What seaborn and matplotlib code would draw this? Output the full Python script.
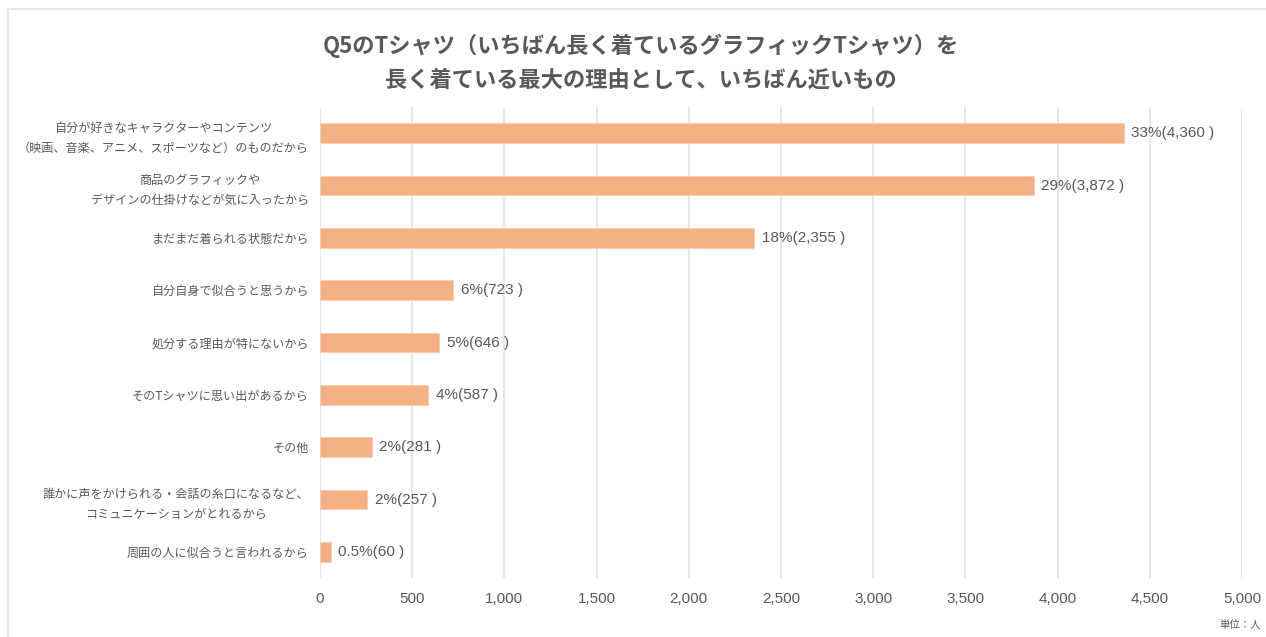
import matplotlib
matplotlib.use("Agg")
import matplotlib.pyplot as plt
import seaborn as sns
import pandas as pd
from matplotlib.lines import Line2D

# data
reasons = [
    "自分が好きなキャラクターやコンテンツ\n（映画、音楽、アニメ、スポーツなど）のものだから",
    "商品のグラフィックや\nデザインの仕掛けなどが気に入ったから",
    "まだまだ着られる状態だから",
    "自分自身で似合うと思うから",
    "処分する理由が特にないから",
    "そのTシャツに思い出があるから",
    "その他",
    "誰かに声をかけられる・会話の糸口になるなど、\nコミュニケーションがとれるから",
    "周囲の人に似合うと言われるから",
]
counts = [4360, 3872, 2355, 723, 646, 587, 281, 257, 60]
shares = ["33%", "29%", "18%", "6%", "5%", "4%", "2%", "2%", "0.5%"]
xticks = [0, 500, 1000, 1500, 2000, 2500, 3000, 3500, 4000, 4500, 5000]

title = "Q5のTシャツ（いちばん長く着ているグラフィックTシャツ）を\n長く着ている最大の理由として、いちばん近いもの"

sns.set_theme(style="white")
plt.rcParams['font.family'] = ['Noto Sans CJK JP', 'DejaVu Sans']
num_font = ['Liberation Sans', 'Noto Sans CJK JP']
text_col = "#595959"
bar_col = "#F4B183"

df = pd.DataFrame({"reason": reasons, "count": counts})

fig = plt.figure(figsize=(12.66, 6.37), dpi=100)
ax = fig.add_axes([0.2528, 0.0926, 0.7282, 0.7394])

sns.barplot(data=df, x="count", y="reason", color=bar_col, width=0.38,
            saturation=1, edgecolor="#F8CBAD", linewidth=0.6, ax=ax, zorder=3)

ax.set_xlim(0, 5000)
ax.set_ylim(8.5, -0.5)
ax.set_xticks(xticks)
ax.set_xticklabels([f"{v:,}" for v in xticks], fontsize=11, color=text_col,
                   family=num_font)
ax.tick_params(axis="x", length=0, pad=10)
ax.tick_params(axis="y", length=0, pad=8)
for lbl in ax.get_yticklabels():
    lbl.set_fontsize(8.7)
    lbl.set_color(text_col)
    lbl.set_multialignment("center")
    lbl.set_linespacing(1.7)
ax.set_xlabel("")
ax.set_ylabel("")
ax.grid(axis="x", color="#E3E3E3", linewidth=1.2, zorder=0)
for s in ax.spines.values():
    s.set_visible(False)

for i, (c, s) in enumerate(zip(counts, shares)):
    ax.text(c + 40, i, f"{s}({c:,} )", va="center", ha="left",
            fontsize=11, color=text_col, family=num_font)

fig.text(0.506, 0.902, title, ha="center", va="center", fontsize=16,
         fontweight="bold", color=text_col, linespacing=1.6)
fig.text(0.996, 0.012, "単位：人", ha="right", va="bottom", fontsize=7.5,
         color=text_col)

# light frame at top and left
fig.add_artist(Line2D([8 / 1266, 1.0], [1 - 9 / 637, 1 - 9 / 637],
                      transform=fig.transFigure, color="#E6E6E6", linewidth=1.5))
fig.add_artist(Line2D([8 / 1266, 8 / 1266], [0, 1 - 9 / 637],
                      transform=fig.transFigure, color="#E6E6E6", linewidth=1.5))

fig.savefig("out.png", dpi=100, facecolor="white")
